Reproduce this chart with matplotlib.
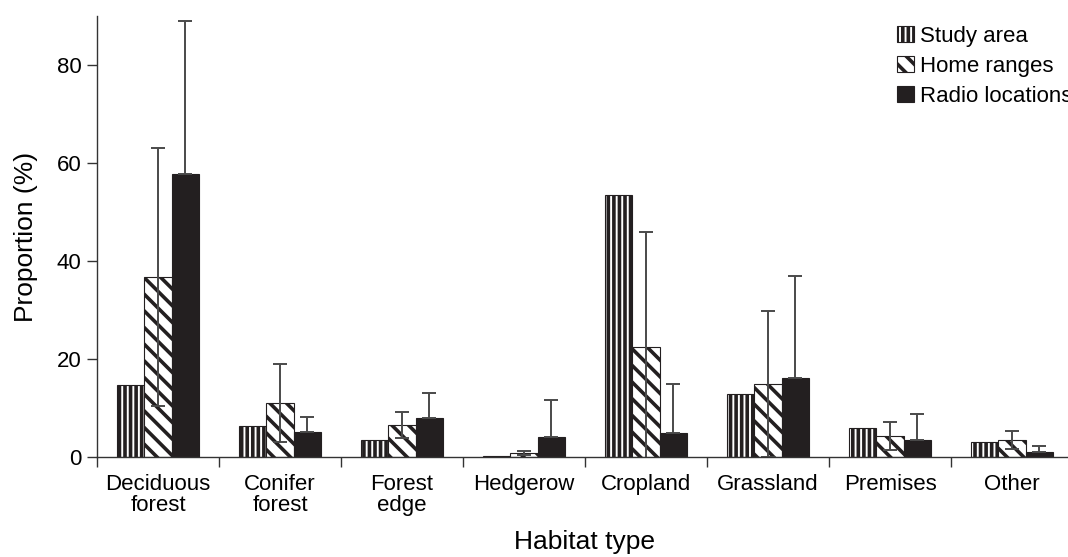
import numpy as np
import matplotlib.pyplot as plt

habitats = ["Deciduous\nforest", "Conifer\nforest", "Forest\nedge", "Hedgerow",
            "Cropland", "Grassland", "Premises", "Other"]
study_area = [14.6, 6.3, 3.5, 0.3, 53.5, 12.9, 6.0, 3.0]
home_ranges = [36.7, 11.0, 6.5, 0.8, 22.5, 14.9, 4.3, 3.5]
home_sd = [26.3, 7.9, 2.7, 0.4, 23.5, 14.8, 2.8, 1.8]
radio_locs = [57.8, 5.1, 8.0, 4.1, 4.9, 16.2, 3.4, 1.1]
radio_sd = [31.2, 3.1, 5.1, 7.6, 10.0, 20.8, 5.4, 1.2]

plt.rcParams["font.family"] = ["Liberation Sans", "DejaVu Sans"]
plt.rcParams["hatch.linewidth"] = 2.6
plt.rcParams["hatch.color"] = "#231f20"

fig = plt.figure(figsize=(10.68, 5.57), dpi=100)
ax = fig.add_axes([97 / 1068, 1 - 457 / 557, 976 / 1068, 441 / 557])

x = np.arange(len(habitats))
w = 0.224
dark = "#231f20"
err_kw = dict(ecolor="#4a4a4a", elinewidth=1.4, capsize=5, capthick=1.4)

ax.bar(x - w, study_area, w, color="white", edgecolor=dark, linewidth=0.8,
       hatch="|||", label="Study area")
ax.bar(x, home_ranges, w, yerr=home_sd, color="white", edgecolor=dark,
       linewidth=0.8, hatch="\\\\", label="Home ranges", error_kw=err_kw)
ax.bar(x + w, radio_locs, w, yerr=[np.zeros(len(radio_sd)), radio_sd],
       color=dark, edgecolor=dark, linewidth=0.8, label="Radio locations",
       error_kw=err_kw)

ax.set_xlim(-0.5, len(habitats) - 0.5)
ax.set_ylim(0, 90)
ax.set_yticks([0, 20, 40, 60, 80])
ax.set_xticks(np.arange(len(habitats) + 1) - 0.5)
ax.set_xticklabels([])
ax.set_xticks(x, habitats, minor=True)
ax.tick_params(axis="x", which="minor", length=0, pad=12, labelsize=16)
ax.tick_params(axis="x", which="major", length=7, width=1, color="#333333")
ax.tick_params(axis="y", length=7, width=1, color="#333333", labelsize=16,
               pad=4)
for lab in ax.get_xticklabels(minor=True):
    lab.set_linespacing(1.0)

for s in ["top", "right"]:
    ax.spines[s].set_visible(False)
for s in ["left", "bottom"]:
    ax.spines[s].set_color("#333333")
    ax.spines[s].set_linewidth(1)

ax.set_ylabel("Proportion (%)", fontsize=19, labelpad=14)
ax.set_xlabel("Habitat type", fontsize=19, labelpad=10)

ax.legend(loc="upper left", bbox_to_anchor=(897 / 1068, 1 - 26 / 557),
          bbox_transform=fig.transFigure, frameon=False, fontsize=16,
          handlelength=0.75, handleheight=0.75, handletextpad=0.3,
          labelspacing=0.4, borderpad=0, borderaxespad=0)

fig.savefig("out.png", dpi=100)
